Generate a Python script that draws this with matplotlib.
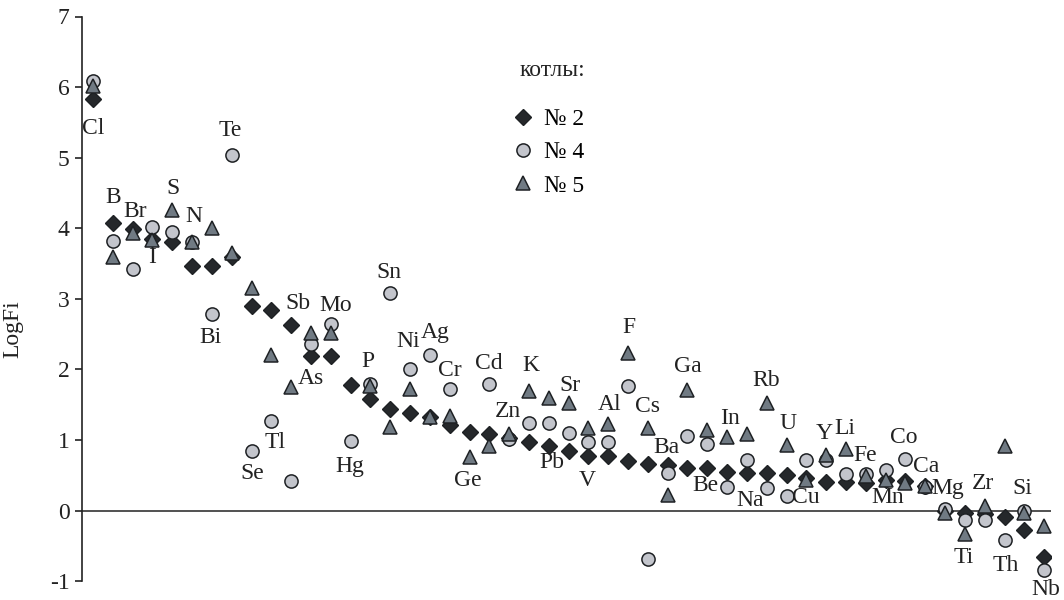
import numpy as np
import matplotlib
matplotlib.use("Agg")
import matplotlib.pyplot as plt

plt.rcParams['font.family'] = ['Liberation Serif', 'DejaVu Serif']

nan = np.nan
# LogFi values per element column (1..49)
boiler2 = [5.83, 4.08, 3.99, 3.85, 3.81, 3.47, 3.47, 3.60, 2.90, 2.84,
           2.63, 2.19, 2.19, 1.78, 1.58, 1.44, 1.38, 1.33, 1.21, 1.12,
           1.09, 1.03, 0.97, 0.92, 0.85, 0.78, 0.78, 0.71, 0.66, 0.65,
           0.61, 0.60, 0.55, 0.54, 0.54, 0.51, 0.46, 0.41, 0.41, 0.39,
           0.43, 0.42, 0.35, 0.00, -0.03, -0.05, -0.09, -0.28, -0.65]
boiler4 = [6.08, 3.82, 3.42, 4.02, 3.95, 3.81, 2.78, 5.04, 0.85, 1.27,
           0.42, 2.36, 2.65, 0.98, 1.80, 3.09, 2.00, 2.21, 1.72, nan,
           1.79, 1.01, 1.24, 1.24, 1.10, 0.97, 0.97, 1.76, -0.69, 0.53,
           1.06, 0.94, 0.34, 0.72, 0.32, 0.21, 0.72, 0.72, 0.52, 0.52,
           0.58, 0.73, 0.34, 0.02, -0.13, -0.13, -0.42, 0.00, -0.84]
boiler5 = [6.02, 3.60, 3.94, 3.84, 4.26, 3.80, 4.00, 3.65, 3.15, 2.20,
           1.75, 2.51, 2.52, nan, 1.76, 1.19, 1.72, 1.32, 1.34, 0.76,
           0.91, 1.08, 1.70, 1.59, 1.53, 1.17, 1.23, 2.24, 1.17, 0.22,
           1.71, 1.14, 1.05, 1.09, 1.53, 0.93, 0.43, 0.79, 0.87, 0.49,
           0.43, 0.39, 0.35, -0.03, -0.33, 0.06, 0.91, -0.03, -0.22]

elements = ['Cl', 'B', 'Br', 'I', 'S', 'N', 'Bi', 'Te', 'Se', 'Tl', 'Sb', 'Mo',
            'As', 'Hg', 'P', 'Sn', 'Ni', 'Ag', 'Cr', 'Cd', 'Ge', 'Zn', 'K', 'Sr',
            'Pb', 'V', 'Al', 'F', 'Cs', 'Ba', 'Ga', 'Be', 'In', 'Na', 'Rb', 'U',
            'Cu', 'Y', 'Li', 'Fe', 'Mn', 'Co', 'Ca', 'Mg', 'Ti', 'Zr', 'Th', 'Si', 'Nb']
# annotation anchor positions (data coords)
label_x = [1.0, 2.01, 3.12, 3.98, 5.03, 6.09, 6.91, 7.92, 9.03, 10.19, 11.35, 13.22,
           12.01, 13.98, 14.89, 15.95, 16.91, 18.27, 19.03, 20.95, 19.89, 21.96, 23.07, 25.09,
           24.18, 25.95, 27.06, 28.02, 28.98, 29.94, 31.0, 31.91, 33.12, 34.18, 34.99, 36.05,
           36.96, 37.92, 38.93, 39.99, 41.1, 41.91, 43.02, 44.13, 44.94, 45.9, 47.06, 47.92, 49.08]
label_y = [5.42, 4.43, 4.24, 3.58, 4.57, 4.17, 2.46, 5.39, 0.53, 0.97, 2.94, 2.91,
           1.87, 0.62, 2.11, 3.38, 2.40, 2.53, 1.98, 2.09, 0.43, 1.41, 2.05, 1.77,
           0.68, 0.43, 1.50, 2.59, 1.47, 0.90, 2.04, 0.36, 1.30, 0.15, 1.85, 1.23,
           0.18, 1.10, 1.16, 0.78, 0.18, 1.03, 0.62, 0.31, -0.67, 0.39, -0.77, 0.32, -1.12]

series_labels = ['№ 2', '№ 4', '№ 5']
legend_title = 'котлы:'
yticks = [-1, 0, 1, 2, 3, 4, 5, 6, 7]

x = np.arange(1, len(boiler2) + 1)

fig = plt.figure(figsize=(10.64, 6.0), dpi=100)
ax = fig.add_axes([0.0771, 0.0312, 0.9104, 0.9413])

edge = '#1e2124'
ax.plot(x, boiler2, linestyle='none', marker='D', ms=8.0, mfc='#25282b', mec=edge,
        mew=1.0, zorder=3, label=series_labels[0])
ax.plot(x, boiler4, linestyle='none', marker='o', ms=9.5, mfc='#c3c5cc', mec=edge,
        mew=1.1, zorder=4, label=series_labels[1])
ax.plot(x, boiler5, linestyle='none', marker='^', ms=10.5, mfc='#707a83', mec=edge,
        mew=1.1, zorder=5, label=series_labels[2])

ax.axhline(0, color='#333333', lw=1.2, zorder=2)

for name, lx, ly in zip(elements, label_x, label_y):
    ax.text(lx, ly, name, ha='center', va='center', fontsize=17, color='#222222',
            zorder=6, clip_on=False)

ax.set_xlim(0.444, 49.33)
ax.set_ylim(-1, 7)
ax.set_yticks(yticks)
ax.set_yticklabels([str(t) for t in yticks], fontsize=17, color='#222222')
ax.tick_params(axis='y', direction='out', length=5, width=1.2, color='#222222', pad=4)
ax.set_xticks([])
for s in ['top', 'right', 'bottom']:
    ax.spines[s].set_visible(False)
ax.spines['left'].set_linewidth(1.2)
ax.spines['left'].set_color('#222222')
ax.set_ylabel('LogFi', fontsize=17, color='#222222')
ax.yaxis.set_label_coords(-0.061, 0.447)

ax.text(0.486, 0.905, legend_title, transform=ax.transAxes, ha='center', va='center',
        fontsize=17, color='#222222')
leg = ax.legend(loc='upper left', bbox_to_anchor=(0.433, 0.854),
                frameon=False, fontsize=17, handlelength=1.0,
                handletextpad=0.4, labelspacing=0.5, borderaxespad=0, borderpad=0.4)

fig.savefig('out.png', dpi=100)
